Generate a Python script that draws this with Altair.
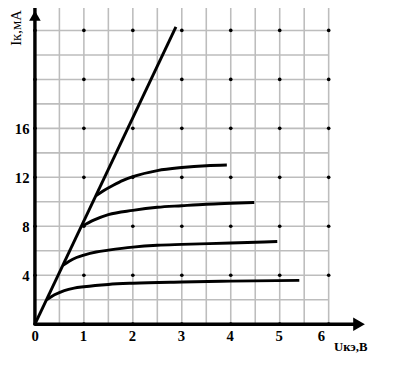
import altair as alt
import pandas as pd

# ---- data ----
x_ticks = [0, 1, 2, 3, 4, 5, 6]
y_ticks = [4, 8, 12, 16]
grid_u = [0.5, 1.0, 1.5, 2.0, 2.5, 3.0, 3.5, 4.0, 4.5, 5.0, 5.5, 6.0]
grid_i = [2, 4, 6, 8, 10, 12, 14, 16, 18, 20, 22, 24, 26]
dot_u = [0, 1, 2, 3, 4, 5, 6]
dot_i = [0, 4, 8, 12, 16, 20, 24]

load_u = [0.0, 2.88]
load_i = [0.0, 24.3]

c1_u = [0.24, 0.4, 0.6, 0.8, 1.0, 1.5, 2.0, 3.0, 4.0, 5.4]
c1_i = [2.0, 2.4, 2.75, 2.95, 3.06, 3.25, 3.35, 3.45, 3.52, 3.58]
c2_u = [0.57, 0.7, 0.85, 1.0, 1.25, 1.5, 2.0, 2.5, 3.0, 4.0, 4.95]
c2_i = [4.8, 5.15, 5.45, 5.65, 5.9, 6.05, 6.3, 6.45, 6.52, 6.63, 6.75]
c3_u = [0.96, 1.2, 1.5, 2.0, 2.5, 3.0, 3.5, 4.0, 4.48]
c3_i = [8.0, 8.5, 8.95, 9.3, 9.55, 9.68, 9.8, 9.88, 9.95]
c4_u = [1.25, 1.4, 1.6, 1.8, 2.0, 2.5, 3.0, 3.5, 3.92]
c4_i = [10.5, 10.9, 11.35, 11.75, 12.05, 12.55, 12.8, 12.95, 13.0]

x_axis_u = [0.0, 6.62]
y_axis_i = [0.0, 26.0]

X_DOM = [0, 7.6]
Y_DOM = [0, 25.52]
W, H = 380, 319

xs = alt.Scale(domain=X_DOM, nice=False, zero=False)
ys = alt.Scale(domain=Y_DOM, nice=False, zero=False)

serif = "Liberation Serif"

vgrid = pd.DataFrame({"u": grid_u, "i0": 0, "i1": 26})
hgrid = pd.DataFrame({"i": grid_i, "u0": 0, "u1": 6})
dots = pd.DataFrame([(u, i) for u in dot_u for i in dot_i], columns=["u", "i"])

curves = pd.concat([
    pd.DataFrame({"u": c1_u, "i": c1_i, "c": "1"}),
    pd.DataFrame({"u": c2_u, "i": c2_i, "c": "2"}),
    pd.DataFrame({"u": c3_u, "i": c3_i, "c": "3"}),
    pd.DataFrame({"u": c4_u, "i": c4_i, "c": "4"}),
])
load = pd.DataFrame({"u": load_u, "i": load_i})

base_axes = alt.Chart(pd.DataFrame({"u": [0], "i": [0]})).mark_point(opacity=0).encode(
    x=alt.X("u:Q", scale=xs, axis=alt.Axis(
        values=x_ticks, domain=False, ticks=False, tickSize=0, grid=False,
        labelFont=serif, labelFontSize=15, labelFontWeight="bold", labelColor="black",
        labelPadding=5,
        labelOffset={"condition": [{"test": "datum.value == 0", "value": -4},
                                   {"test": "datum.value == 6", "value": -8}],
                     "value": -1},
        title="Uкэ,В", titleFont=serif, titleFontSize=13, titleFontWeight="bold",
        titleColor="black", titleX=322, titleY=23, titleBaseline="middle")),
    y=alt.Y("i:Q", scale=ys, axis=alt.Axis(
        values=y_ticks, domain=False, ticks=False, tickSize=0, grid=False,
        labelFont=serif, labelFontSize=15, labelFontWeight="bold", labelColor="black",
        labelPadding=6,
        title="Iк,мА", titleFont=serif, titleFontSize=15, titleFontWeight="normal",
        titleColor="black", titleAngle=270, titleX=-20, titleY=16, titleBaseline="middle")),
)

grid_color = "#bdbdbd"
vg = alt.Chart(vgrid).mark_rule(color=grid_color, strokeWidth=1.6).encode(
    x=alt.X("u:Q", scale=xs, axis=None), y=alt.Y("i0:Q", scale=ys, axis=None), y2="i1:Q")
hg = alt.Chart(hgrid).mark_rule(color=grid_color, strokeWidth=1.6).encode(
    y=alt.Y("i:Q", scale=ys, axis=None), x=alt.X("u0:Q", scale=xs, axis=None), x2="u1:Q")

dt = alt.Chart(dots).mark_circle(color="black", size=14, opacity=1).encode(
    x=alt.X("u:Q", scale=xs, axis=None), y=alt.Y("i:Q", scale=ys, axis=None))

xax = alt.Chart(pd.DataFrame({"u0": [x_axis_u[0]], "u1": [x_axis_u[1]], "i": [0]})).mark_rule(
    color="black", strokeWidth=3.5).encode(
    x=alt.X("u0:Q", scale=xs, axis=None), x2="u1:Q", y=alt.Y("i:Q", scale=ys, axis=None))
yax = alt.Chart(pd.DataFrame({"i0": [y_axis_i[0]], "i1": [y_axis_i[1]], "u": [0]})).mark_rule(
    color="black", strokeWidth=3.5).encode(
    y=alt.Y("i0:Q", scale=ys, axis=None), y2="i1:Q", x=alt.X("u:Q", scale=xs, axis=None))

arr_x = alt.Chart(pd.DataFrame({"u": [x_axis_u[1]], "i": [0]})).mark_point(
    shape="triangle-right", filled=True, color="black", size=190, opacity=1).encode(
    x=alt.X("u:Q", scale=xs, axis=None), y=alt.Y("i:Q", scale=ys, axis=None))
arr_y = alt.Chart(pd.DataFrame({"u": [0], "i": [25.2]})).mark_point(
    shape="triangle-up", filled=True, color="black", size=140, opacity=1).encode(
    x=alt.X("u:Q", scale=xs, axis=None), y=alt.Y("i:Q", scale=ys, axis=None))

cv = alt.Chart(curves).mark_line(color="black", strokeWidth=3, interpolate="monotone").encode(
    x=alt.X("u:Q", scale=xs, axis=None), y=alt.Y("i:Q", scale=ys, axis=None), detail="c:N")
ld = alt.Chart(load).mark_line(color="black", strokeWidth=3).encode(
    x=alt.X("u:Q", scale=xs, axis=None), y=alt.Y("i:Q", scale=ys, axis=None))

chart = alt.layer(base_axes, vg, hg, dt, xax, yax, arr_x, arr_y, cv, ld).resolve_axis(
    x="independent", y="independent"
).properties(
    width=W, height=H,
    autosize=alt.AutoSizeParams(type="none"),
    padding={"left": 27.5, "top": 0, "right": 0, "bottom": 50},
    background="white",
).configure_view(stroke=None)

chart.save("out.html", embed_options={"renderer": "svg", "actions": False})
